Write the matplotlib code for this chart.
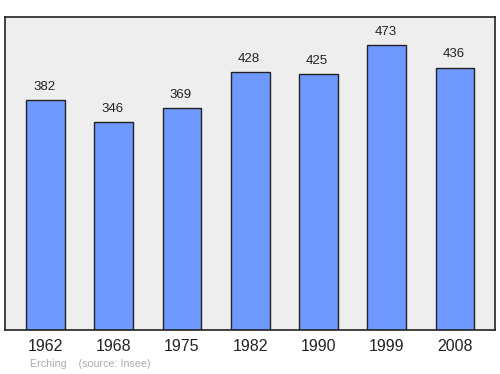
import matplotlib
matplotlib.use("Agg")
import matplotlib.pyplot as plt
import numpy as np

plt.rcParams['font.family'] = ['Liberation Sans', 'DejaVu Sans']

years = ["1962", "1968", "1975", "1982", "1990", "1999", "2008"]
population = [382, 346, 369, 428, 425, 473, 436]

fig = plt.figure(figsize=(5, 3.74), dpi=100)
ax = fig.add_axes([0.01, 0.1176, 0.98, 0.837])
ax.set_facecolor("#eeeeee")

x = np.arange(len(years))
ax.bar(x, population, width=0.57, color="#7099ff", edgecolor="#222222", linewidth=1)

for xi, v in zip(x, population):
    ax.annotate(str(v), (xi, v), xytext=(-1, 9.5), textcoords="offset points",
                ha="center", va="center", fontsize=9.5, color="#222222")

ax.set_xlim(-0.593, 6.586)
ax.set_ylim(0, 520)
ax.set_yticks([])
ax.set_xticks(x)
ax.set_xticklabels(years, fontsize=11.5, color="#222222")
ax.tick_params(axis="x", length=0, pad=6.5)
for s in ax.spines.values():
    s.set_color("#222222")
    s.set_linewidth(1.2)

fig.text(0.061, 0.027, "Erching    (source: Insee)", fontsize=7.7, color="#aaaaaa",
         va="center")

fig.savefig("out.png", dpi=100)
